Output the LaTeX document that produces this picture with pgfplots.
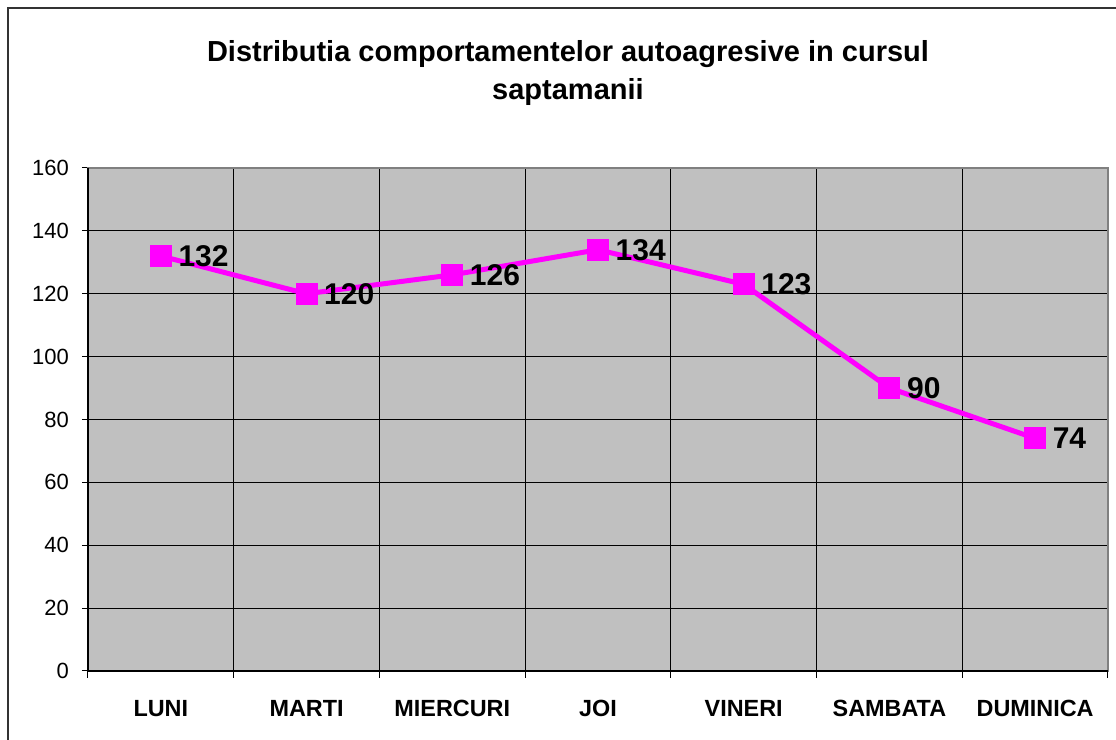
\documentclass[border=0pt]{standalone}
\usepackage{pgfplots}
\pgfplotsset{compat=1.18}
\usepackage{fontspec}
\setmainfont{Liberation Sans}
\definecolor{plotgray}{HTML}{C0C0C0}
\definecolor{mag}{HTML}{FF00FF}
\begin{document}
\begin{tikzpicture}[x=1pt,y=1pt]
\useasboundingbox (0pt,0pt) rectangle (558pt,370pt);
\draw[line width=1pt, black!80] (4pt,0pt) -- (4pt,366pt) -- (558pt,366pt);
\node[align=center, font=\fontsize{14.5}{19}\selectfont\bfseries] at (284pt,333.5pt) {Distributia comportamentelor autoagresive in cursul\\saptamanii};
\begin{axis}[at={(44pt,34.5pt)}, anchor=south west, scale only axis, width=510pt, height=251.5pt,
 xmin=-0.5, xmax=6.5, ymin=0, ymax=160,
 xtick={0,...,6}, xticklabels={LUNI,MARTI,MIERCURI,JOI,VINERI,SAMBATA,DUMINICA},
 minor xtick={-0.5,0.5,...,6.5},
 ytick={0,20,...,160},
 ymajorgrids, xminorgrids,
 grid style={black, line width=0.5pt},
 minor grid style={black, line width=0.5pt},
 axis background/.style={fill=plotgray},
 major x tick style={draw=none},
 tick align=outside,
 xtick pos=bottom, ytick pos=left,
 major tick length=3pt, minor tick length=3.5pt,
 tick style={black, line width=0.5pt},
 axis line style={draw=gray, line width=1pt},
 /pgf/number format/assume math mode=true,
 yticklabel style={font=\fontsize{11}{13}\selectfont, xshift=-3pt},
 xticklabel style={font=\fontsize{11.7}{13}\selectfont\bfseries, yshift=-8pt},
 clip=false,
]
\addplot[mag, line width=2.5pt, mark=square*, mark size=5.25pt,
  mark options={solid, fill=mag, draw=mag, line width=0pt},
  nodes near coords,
  nodes near coords style={anchor=west, xshift=5.5pt, font=\fontsize{15}{17}\selectfont\bfseries, text=black}]
  coordinates {(0,132) (1,120) (2,126) (3,134) (4,123) (5,90) (6,74)};
\draw[black, line width=0.75pt] (rel axis cs:0,1) -- (rel axis cs:0,0) -- (rel axis cs:1,0);
\end{axis}
\end{tikzpicture}
\end{document}
